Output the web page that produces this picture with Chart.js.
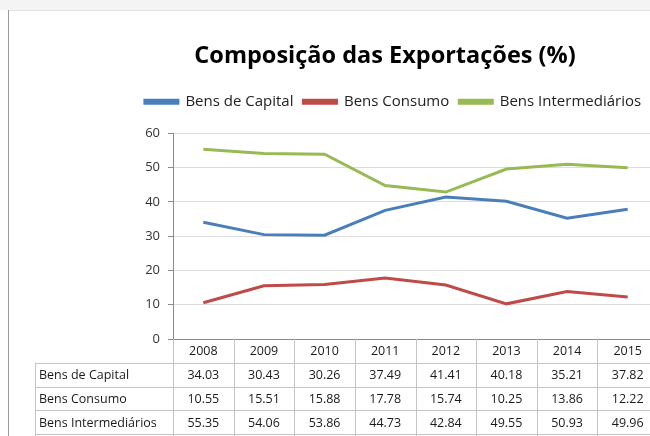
<!DOCTYPE html>
<html>
<head>
<meta charset="utf-8">
<script src="https://cdn.jsdelivr.net/npm/chart.js@4"></script>
<style>
  html, body { margin: 0; padding: 0; background: #fff; overflow: hidden; }
  #wrap { width: 650px; height: 436px; overflow: hidden; position: relative; }
  canvas { position: absolute; left: 0; top: 0; }
</style>
</head>
<body>
<div id="wrap"><canvas id="chart" width="770" height="436"></canvas></div>
<script>
// Data
var years = ['2008', '2009', '2010', '2011', '2012', '2013', '2014', '2015'];
var bensCapital = [34.03, 30.43, 30.26, 37.49, 41.41, 40.18, 35.21, 37.82];
var bensConsumo = [10.55, 15.51, 15.88, 17.78, 15.74, 10.25, 13.86, 12.22];
var bensIntermediarios = [55.35, 54.06, 53.86, 44.73, 42.84, 49.55, 50.93, 49.96];
var seriesNames = ['Bens de Capital', 'Bens Consumo', 'Bens Intermediários'];
var yTicks = [0, 10, 20, 30, 40, 50, 60];

var FONT = '"Open Sans"';

// Frame around the chart (left + top border)
var framePlugin = {
    id: 'frame',
    beforeDraw: function (chart) {
        var ctx = chart.ctx;
        ctx.save();
        ctx.fillStyle = '#fff';
        ctx.fillRect(0, 0, chart.width, chart.height);
        ctx.fillStyle = '#f4f4f4';
        ctx.fillRect(0, 0, chart.width, 10);
        ctx.strokeStyle = '#e3e3e3';
        ctx.lineWidth = 1;
        ctx.beginPath();
        ctx.moveTo(8, 10.5);
        ctx.lineTo(chart.width, 10.5);
        ctx.stroke();
        ctx.strokeStyle = '#9a9a9a';
        ctx.beginPath();
        ctx.moveTo(8.5, 10);
        ctx.lineTo(8.5, chart.height);
        ctx.stroke();
        ctx.restore();
    }
};

// Data table under the x axis
var tablePlugin = {
    id: 'dataTable',
    afterDraw: function (chart) {
        var ctx = chart.ctx;
        var x = chart.scales.x;
        var area = chart.chartArea;
        var colW = (area.right - area.left) / years.length;
        var rowH = 23.8;
        var top = area.bottom;
        var labelLeft = 35;
        var rows = [bensCapital, bensConsumo, bensIntermediarios];

        ctx.save();
        ctx.strokeStyle = '#c4c4c4';
        ctx.lineWidth = 1;

        // horizontal lines
        for (var r = 1; r <= 4; r++) {
            var y = Math.round(top + r * rowH) + 0.5;
            ctx.beginPath();
            ctx.moveTo(labelLeft, y);
            ctx.lineTo(area.right, y);
            ctx.stroke();
        }
        // vertical lines in the header row and data rows
        for (var c = 0; c <= years.length; c++) {
            var vx = Math.round(area.left + c * colW) + 0.5;
            ctx.beginPath();
            ctx.moveTo(vx, top);
            ctx.lineTo(vx, chart.height);
            ctx.stroke();
        }
        ctx.beginPath();
        ctx.moveTo(labelLeft + 0.5, top + rowH);
        ctx.lineTo(labelLeft + 0.5, chart.height);
        ctx.stroke();

        ctx.fillStyle = '#1a1a1a';
        ctx.font = '12.5px ' + FONT;
        ctx.textBaseline = 'middle';
        ctx.textAlign = 'center';
        years.forEach(function (yr, i) {
            ctx.fillText(yr, x.getPixelForValue(i), top + rowH / 2 + 1);
        });
        rows.forEach(function (vals, r) {
            var cy = top + (r + 1) * rowH + rowH / 2 + 1;
            ctx.textAlign = 'left';
            ctx.fillText(seriesNames[r], labelLeft + 4, cy);
            ctx.textAlign = 'center';
            vals.forEach(function (v, i) {
                ctx.fillText(v.toFixed(2), x.getPixelForValue(i), cy);
            });
        });
        ctx.restore();
    }
};

// Push the plot area down below the legend and nudge the legend right
var legendSpacer = {
    id: 'legendSpacer',
    beforeInit: function (chart) {
        var fit = chart.legend.fit;
        chart.legend.fit = function () {
            fit.bind(chart.legend)();
            this.height += 14;
        };
    },
    afterLayout: function (chart) {
        chart.legend.left += 8;
        chart.legend.right += 8;
    }
};

var ctx = document.getElementById('chart').getContext('2d');
new Chart(ctx, {
    type: 'line',
    data: {
        labels: years,
        datasets: [
            { label: seriesNames[0], data: bensCapital, borderColor: '#4a7ebb', backgroundColor: '#4a7ebb' },
            { label: seriesNames[1], data: bensConsumo, borderColor: '#be4b48', backgroundColor: '#be4b48' },
            { label: seriesNames[2], data: bensIntermediarios, borderColor: '#98b954', backgroundColor: '#98b954' }
        ]
    },
    options: {
        responsive: false,
        animation: false,
        devicePixelRatio: 1,
        elements: {
            line: { borderWidth: 3, tension: 0 },
            point: { radius: 0 }
        },
        layout: { padding: { left: 0, right: 0, top: 0, bottom: 0 } },
        scales: {
            x: {
                offset: true,
                grid: { display: false },
                ticks: { display: false },
                border: { display: true, color: '#8a8a8a' },
                afterFit: function (s) { s.height = 97; }
            },
            y: {
                min: 0,
                max: 60,
                afterBuildTicks: function (s) {
                    s.ticks = yTicks.map(function (v) { return { value: v }; });
                },
                grid: { color: '#dcdcdc', tickColor: '#8a8a8a', tickLength: 5 },
                border: { display: true, color: '#8a8a8a' },
                ticks: { font: { family: FONT, size: 13 }, color: '#333', padding: 8 },
                afterFit: function (s) { s.width = 173; }
            },
            y2: {
                position: 'right',
                display: true,
                grid: { display: false },
                ticks: { display: false },
                border: { display: false },
                afterFit: function (s) { s.width = 770 - 658; }
            }
        },
        plugins: {
            title: {
                display: true,
                text: 'Composição das Exportações (%)',
                color: '#000',
                font: { family: FONT, size: 23.5, weight: 'bold' },
                padding: { top: 42, bottom: 14 }
            },
            legend: {
                display: true,
                labels: {
                    font: { family: FONT, size: 15 },
                    color: '#222',
                    boxWidth: 33,
                    boxHeight: 3,
                    padding: 10
                }
            },
            tooltip: { enabled: false }
        }
    },
    plugins: [framePlugin, tablePlugin, legendSpacer]
});
</script>
</body>
</html>
